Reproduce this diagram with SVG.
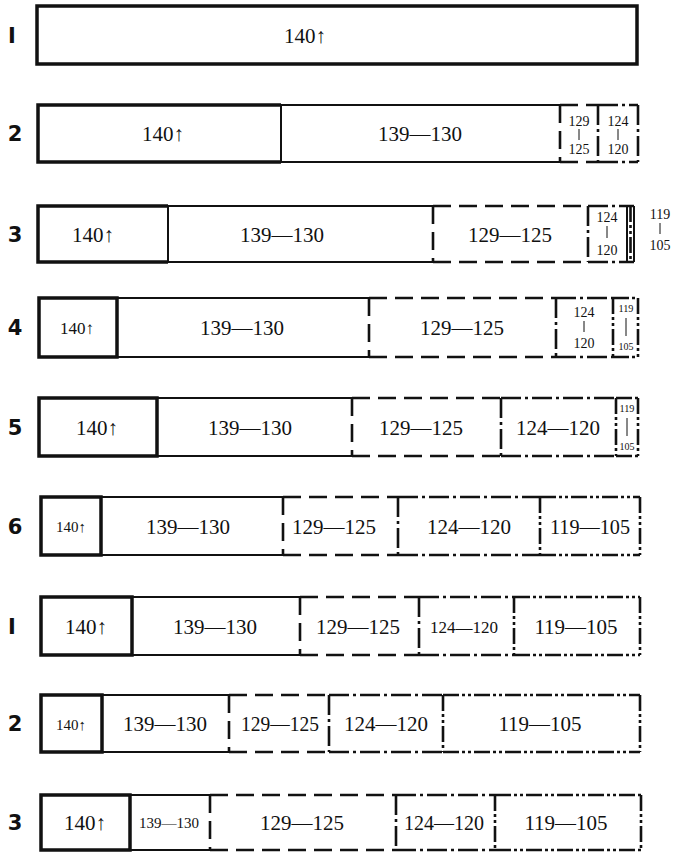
<svg xmlns="http://www.w3.org/2000/svg" width="673" height="852" viewBox="0 0 673 852">
<style>
  path, line { fill: none; stroke: #111; stroke-linecap: butt; }
  .thick { stroke-width: 3.5; }
  .s { stroke-width: 2; }
  .bar { stroke-width: 1; }
  .dash { stroke-width: 2.6; stroke-dasharray: 18 8; }
  .dd { stroke-width: 2.6; stroke-dasharray: 20 4 3 4; }
  .ddd { stroke-width: 2.6; stroke-dasharray: 16 3 3 3 3 3; }
  text { font-family: "Liberation Serif", "DejaVu Serif", serif; fill: #111; text-anchor: middle; }
  .t { font-size: 21px; }
  .tm { font-size: 17px; }
  .ts { font-size: 15px; }
  .st { font-size: 14px; }
  .sx { font-size: 11px; }
  .lbl { font-family: "DejaVu Sans", "Liberation Sans", sans-serif; font-weight: bold; font-size: 21px; text-anchor: middle; }
</style>

<g id="labels">
  <text class="lbl" x="12" y="43">I</text>
  <text class="lbl" x="15" y="141">2</text>
  <text class="lbl" x="15" y="242">3</text>
  <text class="lbl" x="15" y="335">4</text>
  <text class="lbl" x="15" y="435">5</text>
  <text class="lbl" x="15" y="534">6</text>
  <text class="lbl" x="12" y="634">I</text>
  <text class="lbl" x="15" y="731">2</text>
  <text class="lbl" x="15" y="830">3</text>
</g>

<!-- Row 1 -->
<g id="r1-140">
  <path class="thick" d="M37 6 H637 V64 H37 Z"/>
  <text class="t" x="305" y="43">140↑</text>
</g>

<!-- Row 2 -->
<g id="r2-140">
  <path class="thick" d="M281 105 H38 V162 H281"/>
  <text class="t" x="163" y="141">140↑</text>
</g>
<g id="r2-139">
  <path class="s" d="M281 105 H560 M281 162 H560 M281 105 V162"/>
  <text class="t" x="420" y="141">139—130</text>
</g>
<g id="r2-129">
  <path class="dash" d="M560 105 H598 M560 162 H598 M560 105 V162"/>
  <text class="st" x="579" y="126">129</text>
  <line class="bar" x1="579" y1="129" x2="579" y2="140"/>
  <text class="st" x="579" y="154">125</text>
</g>
<g id="r2-124">
  <path class="dd" d="M598 105 H638 M598 162 H638 M598 105 V162 M638 105 V162"/>
  <text class="st" x="618" y="126">124</text>
  <line class="bar" x1="618" y1="129" x2="618" y2="140"/>
  <text class="st" x="618" y="154">120</text>
</g>

<!-- Row 3 -->
<g id="r3-140">
  <path class="thick" d="M168 206 H38 V262 H168"/>
  <text class="t" x="93" y="242">140↑</text>
</g>
<g id="r3-139">
  <path class="s" d="M168 206 H433 M168 262 H433 M168 206 V262"/>
  <text class="t" x="282" y="242">139—130</text>
</g>
<g id="r3-129">
  <path class="dash" d="M433 206 H588 M433 262 H588 M433 206 V262"/>
  <text class="t" x="510" y="242">129—125</text>
</g>
<g id="r3-124">
  <path class="dd" d="M588 206 H627 M588 262 H627 M588 206 V262"/>
  <line class="s" x1="627" y1="206" x2="627" y2="262"/>
  <text class="st" x="607" y="222">124</text>
  <line class="bar" x1="607" y1="226" x2="607" y2="238"/>
  <text class="st" x="607" y="255">120</text>
</g>
<g id="r3-119">
  <path class="ddd" d="M627 206 H634 M627 262 H634 M630.5 206 V262"/>
  <line class="s" x1="634" y1="206" x2="634" y2="262"/>
  <text class="st" x="660" y="219">119</text>
  <line class="bar" x1="660" y1="223" x2="660" y2="234"/>
  <text class="st" x="660" y="250">105</text>
</g>

<!-- Row 4 -->
<g id="r4-140">
  <path class="thick" d="M39 298 H117 V357 H39 Z"/>
  <text class="tm" x="77" y="334">140↑</text>
</g>
<g id="r4-139">
  <path class="s" d="M117 298 H369 M117 357 H369"/>
  <text class="t" x="242" y="335">139—130</text>
</g>
<g id="r4-129">
  <path class="dash" d="M369 298 H556 M369 357 H556 M369 298 V357"/>
  <text class="t" x="462" y="335">129—125</text>
</g>
<g id="r4-124">
  <path class="dd" d="M556 298 H613 M556 357 H613 M556 298 V357"/>
  <text class="st" x="584" y="317">124</text>
  <line class="bar" x1="584" y1="321" x2="584" y2="332"/>
  <text class="st" x="584" y="348">120</text>
</g>
<g id="r4-119">
  <path class="ddd" d="M613 298 H638 M613 357 H638 M613 298 V357 M638 298 V357"/>
  <text class="sx" x="626" y="312" textLength="15" lengthAdjust="spacingAndGlyphs">119</text>
  <line class="bar" x1="626" y1="318" x2="626" y2="336"/>
  <text class="sx" x="626" y="350" textLength="15" lengthAdjust="spacingAndGlyphs">105</text>
</g>

<!-- Row 5 -->
<g id="r5-140">
  <path class="thick" d="M39 398 H157 V456 H39 Z"/>
  <text class="t" x="97" y="435">140↑</text>
</g>
<g id="r5-139">
  <path class="s" d="M157 398 H352 M157 456 H352"/>
  <text class="t" x="250" y="435">139—130</text>
</g>
<g id="r5-129">
  <path class="dash" d="M352 398 H501 M352 456 H501 M352 398 V456"/>
  <text class="t" x="421" y="435">129—125</text>
</g>
<g id="r5-124">
  <path class="dd" d="M501 398 H616 M501 456 H616 M501 398 V456"/>
  <text class="t" x="558" y="435">124—120</text>
</g>
<g id="r5-119">
  <path class="ddd" d="M616 398 H638 M616 456 H638 M616 398 V456 M638 398 V456"/>
  <text class="sx" x="627" y="412" textLength="15" lengthAdjust="spacingAndGlyphs">119</text>
  <line class="bar" x1="627" y1="418" x2="627" y2="436"/>
  <text class="sx" x="627" y="450" textLength="15" lengthAdjust="spacingAndGlyphs">105</text>
</g>

<!-- Row 6 -->
<g id="r6-140">
  <path class="thick" d="M41 497 H101 V555 H41 Z"/>
  <text class="ts" x="71" y="532">140↑</text>
</g>
<g id="r6-139">
  <path class="s" d="M101 497 H283 M101 555 H283"/>
  <text class="t" x="188" y="534">139—130</text>
</g>
<g id="r6-129">
  <path class="dash" d="M283 497 H398 M283 555 H398 M283 497 V555"/>
  <text class="t" x="334" y="534">129—125</text>
</g>
<g id="r6-124">
  <path class="dd" d="M398 497 H540 M398 555 H540 M398 497 V555"/>
  <text class="t" x="469" y="534">124—120</text>
</g>
<g id="r6-119">
  <path class="ddd" d="M540 497 H640 M540 555 H640 M540 497 V555 M640 497 V555"/>
  <text class="t" x="590" y="534" textLength="80" lengthAdjust="spacingAndGlyphs">119—105</text>
</g>

<!-- Row 7 -->
<g id="r7-140">
  <path class="thick" d="M41 597 H132 V655 H41 Z"/>
  <text class="t" x="86" y="634">140↑</text>
</g>
<g id="r7-139">
  <path class="s" d="M132 597 H300 M132 655 H300"/>
  <text class="t" x="215" y="634">139—130</text>
</g>
<g id="r7-129">
  <path class="dash" d="M300 597 H419 M300 655 H419 M300 597 V655"/>
  <text class="t" x="358" y="634">129—125</text>
</g>
<g id="r7-124">
  <path class="dd" d="M419 597 H514 M419 655 H514 M419 597 V655"/>
  <text class="tm" x="464" y="633">124—120</text>
</g>
<g id="r7-119">
  <path class="ddd" d="M514 597 H640 M514 655 H640 M514 597 V655 M640 597 V655"/>
  <text class="t" x="576" y="634">119—105</text>
</g>

<!-- Row 8 -->
<g id="r8-140">
  <path class="thick" d="M41 695 H102 V752 H41 Z"/>
  <text class="ts" x="71" y="730">140↑</text>
</g>
<g id="r8-139">
  <path class="s" d="M102 695 H229 M102 752 H229"/>
  <text class="t" x="165" y="731">139—130</text>
</g>
<g id="r8-129">
  <path class="dash" d="M229 695 H329 M229 752 H329 M229 695 V752"/>
  <text class="t" x="280" y="731" textLength="78" lengthAdjust="spacingAndGlyphs">129—125</text>
</g>
<g id="r8-124">
  <path class="dd" d="M329 695 H443 M329 752 H443 M329 695 V752"/>
  <text class="t" x="386" y="731" textLength="84" lengthAdjust="spacingAndGlyphs">124—120</text>
</g>
<g id="r8-119">
  <path class="ddd" d="M443 695 H640 M443 752 H640 M443 695 V752 M640 695 V752"/>
  <text class="t" x="540" y="731">119—105</text>
</g>

<!-- Row 9 -->
<g id="r9-140">
  <path class="thick" d="M41 795 H130 V850 H41 Z"/>
  <text class="t" x="85" y="830">140↑</text>
</g>
<g id="r9-139">
  <path class="s" d="M130 795 H210 M130 850 H210"/>
  <text class="ts" x="169" y="828">139—130</text>
</g>
<g id="r9-129">
  <path class="dash" d="M210 795 H396 M210 850 H396 M210 795 V850"/>
  <text class="t" x="302" y="830">129—125</text>
</g>
<g id="r9-124">
  <path class="dd" d="M396 795 H495 M396 850 H495 M396 795 V850"/>
  <text class="t" x="444" y="830" textLength="80" lengthAdjust="spacingAndGlyphs">124—120</text>
</g>
<g id="r9-119">
  <path class="ddd" d="M495 795 H641 M495 850 H641 M495 795 V850 M641 795 V850"/>
  <text class="t" x="566" y="830">119—105</text>
</g>
</svg>
